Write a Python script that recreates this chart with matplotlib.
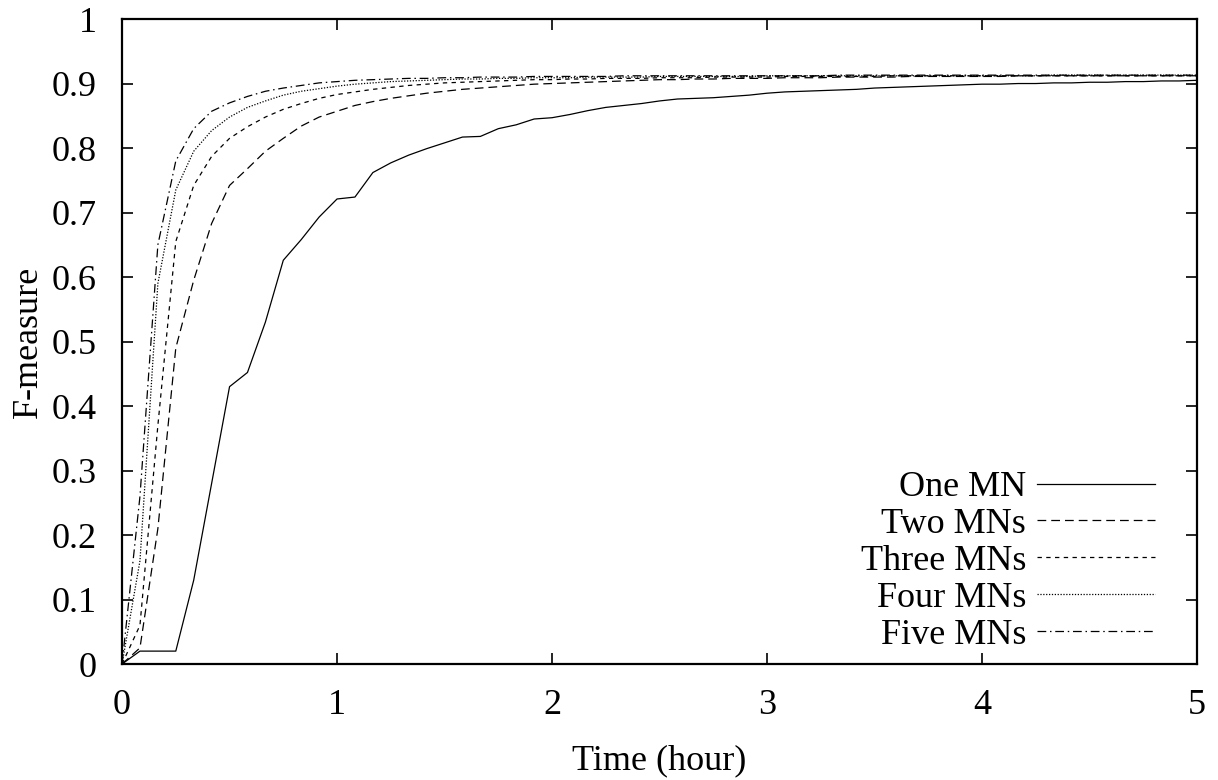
import matplotlib
matplotlib.use("Agg")
import matplotlib.pyplot as plt
from matplotlib.ticker import FormatStrFormatter

# sampling every 5 minutes, 0..5 hours
minutes = list(range(0, 301, 5))

one_mn = [0.0, 0.02, 0.02, 0.02, 0.13, 0.28, 0.43, 0.452, 0.53, 0.626, 0.658, 0.693,
          0.721, 0.724, 0.762, 0.777, 0.789, 0.799, 0.808, 0.817, 0.818, 0.830, 0.836, 0.845,
          0.847, 0.852, 0.858, 0.863, 0.866, 0.869, 0.873, 0.876, 0.877, 0.878, 0.880, 0.882,
          0.885, 0.887, 0.888, 0.889, 0.890, 0.891, 0.893, 0.894, 0.895, 0.896, 0.897, 0.898,
          0.899, 0.899, 0.900, 0.900, 0.901, 0.901, 0.902, 0.902, 0.903, 0.903, 0.904, 0.904,
          0.905]
two_mns = [0.0, 0.025, 0.21, 0.49, 0.595, 0.683, 0.742, 0.768, 0.795, 0.815, 0.834, 0.848,
           0.857, 0.866, 0.872, 0.877, 0.881, 0.885, 0.888, 0.891, 0.893, 0.895, 0.897, 0.899,
           0.900, 0.901, 0.902, 0.903, 0.904, 0.905, 0.906, 0.906, 0.907, 0.907, 0.908, 0.908,
           0.908, 0.909, 0.909, 0.909, 0.910, 0.910, 0.910, 0.910, 0.911, 0.911, 0.911, 0.911,
           0.911, 0.911, 0.912, 0.912, 0.912, 0.912, 0.912, 0.912, 0.912, 0.912, 0.912, 0.912,
           0.912]
three_mns = [0.0, 0.06, 0.37, 0.655, 0.742, 0.787, 0.815, 0.833, 0.848, 0.860, 0.869, 0.877,
             0.883, 0.887, 0.891, 0.894, 0.897, 0.899, 0.901, 0.902, 0.903, 0.904, 0.905, 0.906,
             0.906, 0.907, 0.907, 0.908, 0.908, 0.908, 0.909, 0.909, 0.909, 0.910, 0.910, 0.910,
             0.910, 0.911, 0.911, 0.911, 0.911, 0.911, 0.911, 0.912, 0.912, 0.912, 0.912, 0.912,
             0.912, 0.912, 0.912, 0.912, 0.912, 0.912, 0.912, 0.912, 0.912, 0.912, 0.912, 0.912,
             0.912]
four_mns = [0.0, 0.16, 0.59, 0.735, 0.795, 0.827, 0.848, 0.863, 0.873, 0.882, 0.888, 0.892,
            0.896, 0.899, 0.901, 0.903, 0.904, 0.905, 0.906, 0.907, 0.907, 0.908, 0.908, 0.909,
            0.909, 0.909, 0.910, 0.910, 0.910, 0.910, 0.911, 0.911, 0.911, 0.911, 0.911, 0.911,
            0.912, 0.912, 0.912, 0.912, 0.912, 0.912, 0.912, 0.912, 0.912, 0.912, 0.912, 0.912,
            0.912, 0.912, 0.912, 0.912, 0.913, 0.913, 0.913, 0.913, 0.913, 0.913, 0.913, 0.913,
            0.913]
five_mns = [0.0, 0.26, 0.65, 0.78, 0.83, 0.857, 0.870, 0.880, 0.888, 0.893, 0.897, 0.901,
            0.903, 0.905, 0.906, 0.907, 0.908, 0.908, 0.909, 0.909, 0.910, 0.910, 0.910, 0.911,
            0.911, 0.911, 0.911, 0.911, 0.912, 0.912, 0.912, 0.912, 0.912, 0.912, 0.912, 0.912,
            0.912, 0.912, 0.912, 0.912, 0.913, 0.913, 0.913, 0.913, 0.913, 0.913, 0.913, 0.913,
            0.913, 0.913, 0.913, 0.913, 0.913, 0.913, 0.913, 0.913, 0.913, 0.913, 0.913, 0.913,
            0.913]

labels = ['One MN', 'Two MNs', 'Three MNs', 'Four MNs', 'Five MNs']
series = [one_mn, two_mns, three_mns, four_mns, five_mns]

hours = [m / 60 for m in minutes]

plt.rcParams['font.family'] = ['Liberation Serif', 'DejaVu Serif']
plt.rcParams['font.size'] = 26

fig = plt.figure(figsize=(12.18, 7.8), dpi=100)
ax = fig.add_axes([0.1002, 0.1487, 0.8826, 0.8269])

styles = [
    dict(linestyle='-'),
    dict(dashes=(7, 4)),
    dict(dashes=(3.5, 3.5)),
    dict(dashes=(1, 1.3)),
    dict(dashes=(7, 3, 1.2, 3)),
]
for lab, vals, st in zip(labels, series, styles):
    ax.plot(hours, vals, color='black', lw=0.9, label=lab, **st)

ax.set_xlim(0, 5)
ax.set_ylim(0, 1)
ax.set_xticks([0, 1, 2, 3, 4, 5])
ax.set_yticks([i / 10 for i in range(11)])
ax.yaxis.set_major_formatter(FormatStrFormatter('%g'))
ax.tick_params(direction='in', length=8, width=1.2, top=True, right=True, pad=18)
for s in ax.spines.values():
    s.set_linewidth(1.6)

ax.set_xlabel('Time (hour)')
ax.set_ylabel('F-measure')
ax.xaxis.set_label_coords(0.5, -0.125)
ax.yaxis.set_label_coords(-0.072, 0.5)

leg = ax.legend(loc='lower right', frameon=False, markerfirst=False, handlelength=3.27,
                handletextpad=0.3, labelspacing=0.1, borderpad=0, borderaxespad=0,
                bbox_to_anchor=(0.961, 0.019))

fig.savefig('out.png', dpi=100)
